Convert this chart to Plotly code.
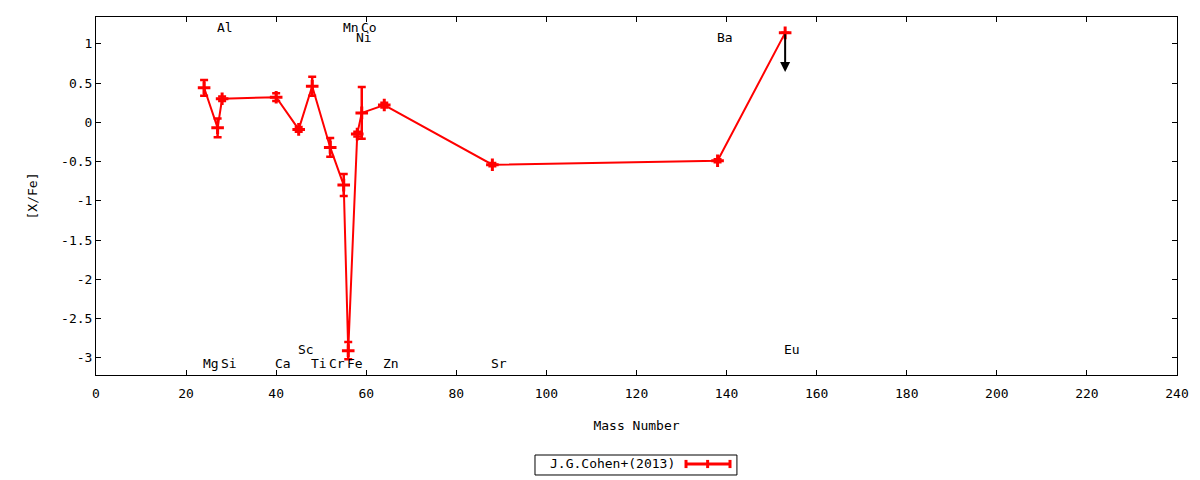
import plotly.graph_objects as go

# ---- data ----
elements = ["Mg", "Al", "Si", "Ca", "Sc", "Ti", "Cr", "Mn", "Fe", "Ni", "Co", "Zn", "Sr", "Ba", "Eu"]
mass = [24, 27, 28, 40, 45, 48, 52, 55, 56, 58, 59, 64, 88, 138, 153]
xfe = [0.44, -0.07, 0.30, 0.32, -0.09, 0.46, -0.32, -0.80, -2.91, -0.15, 0.12, 0.22, -0.54, -0.49, 1.14]
err = [0.10, 0.12, 0.03, 0.05, 0.03, 0.12, 0.12, 0.14, 0.11, 0.03, 0.33, 0.03, 0.02, 0.02, 0.0]

# upper limit (Eu)
limit_mass = [153]
limit_top = [1.14]
limit_bottom = [0.64]

# element label positions (x = mass, y = label height)
label_text = ["Mg", "Al", "Si", "Ca", "Sc", "Ti", "Cr", "Mn", "Fe", "Ni", "Co", "Zn", "Sr", "Ba", "Eu"]
label_x = [24, 27, 28, 40, 45, 48, 52, 55, 56, 58, 59, 64, 88, 138, 153]
label_y = [-3.07, 1.21, -3.07, -3.07, -2.89, -3.07, -3.07, 1.21, -3.07, 1.08, 1.21, -3.07, -3.07, 1.08, -2.89]

x_ticks = list(range(0, 241, 20))
y_ticks = [1, 0.5, 0, -0.5, -1, -1.5, -2, -2.5, -3]
y_tick_text = ["1", "0.5", "0", "-0.5", "-1", "-1.5", "-2", "-2.5", "-3"]

series_name = "J.G.Cohen+(2013)"
RED = "#ff0000"
FONT = "DejaVu Sans Mono"

fig = go.Figure()
fig.add_trace(go.Scatter(
    x=mass, y=xfe, name=series_name, mode="lines+markers",
    line=dict(color=RED, width=2),
    marker=dict(symbol="cross-thin", size=9, color=RED, line=dict(color=RED, width=3)),
    error_y=dict(type="data", array=err, visible=True, color=RED, thickness=2.5, width=4),
    showlegend=False,
))

annotations = []
for t, lx, ly in zip(label_text, label_x, label_y):
    annotations.append(dict(x=lx, y=ly, xref="x", yref="y", text=t, showarrow=False,
                            xanchor="left", yanchor="middle", xshift=-2, borderpad=0,
                            font=dict(family=FONT, size=13, color="black")))

for lm, lt, lb in zip(limit_mass, limit_top, limit_bottom):
    annotations.append(dict(x=lm, y=lb, ax=lm, ay=lt, xref="x", yref="y", axref="x", ayref="y",
                            text="", showarrow=True, arrowhead=2, arrowsize=1, arrowwidth=2,
                            arrowcolor="black", standoff=0, startstandoff=0))

# manual legend (text left, sample right, as in gnuplot)
annotations.append(dict(x=0.4185, y=-0.2486, xref="paper", yref="paper", text=series_name,
                        showarrow=False, xanchor="left", yanchor="middle",
                        font=dict(family=FONT, size=13, color="black")))

shapes = [
    dict(type="rect", xref="paper", yref="paper", x0=0.4061, x1=0.5929, y0=-0.2793, y1=-0.2235,
         line=dict(color="black", width=1), fillcolor="white", layer="below"),
    dict(type="line", xref="paper", yref="paper", x0=0.5458, x1=0.5865, y0=-0.2486, y1=-0.2486,
         line=dict(color=RED, width=3)),
]
for px in [0.5458, 0.5658, 0.5865]:
    shapes.append(dict(type="line", xref="paper", yref="paper", x0=px, x1=px, y0=-0.2600, y1=-0.2372,
                       line=dict(color=RED, width=3)))

fig.update_layout(
    width=1192, height=472,
    margin=dict(l=88, r=23, t=9, b=105),
    paper_bgcolor="white", plot_bgcolor="white",
    font=dict(family=FONT, size=13, color="black"),
    annotations=annotations, shapes=shapes,
    showlegend=False,
)
fig.update_xaxes(
    range=[0, 240], tickvals=x_ticks, ticks="inside", ticklen=5, tickcolor="black",
    ticklabelstandoff=6,
    showline=True, linecolor="black", linewidth=1, mirror="ticks", showgrid=False, zeroline=False,
    title=dict(text="Mass Number", standoff=21, font=dict(family=FONT, size=13)),
)
fig.update_yaxes(
    range=[-3.22, 1.342], tickvals=y_ticks, ticktext=y_tick_text, ticks="inside", ticklen=5,
    tickcolor="black", showline=True, linecolor="black", linewidth=1, mirror="ticks",
    showgrid=False, zeroline=False,
    title=dict(text="[X/Fe]", standoff=20, font=dict(family=FONT, size=13)),
)

fig.write_html("out.html")
